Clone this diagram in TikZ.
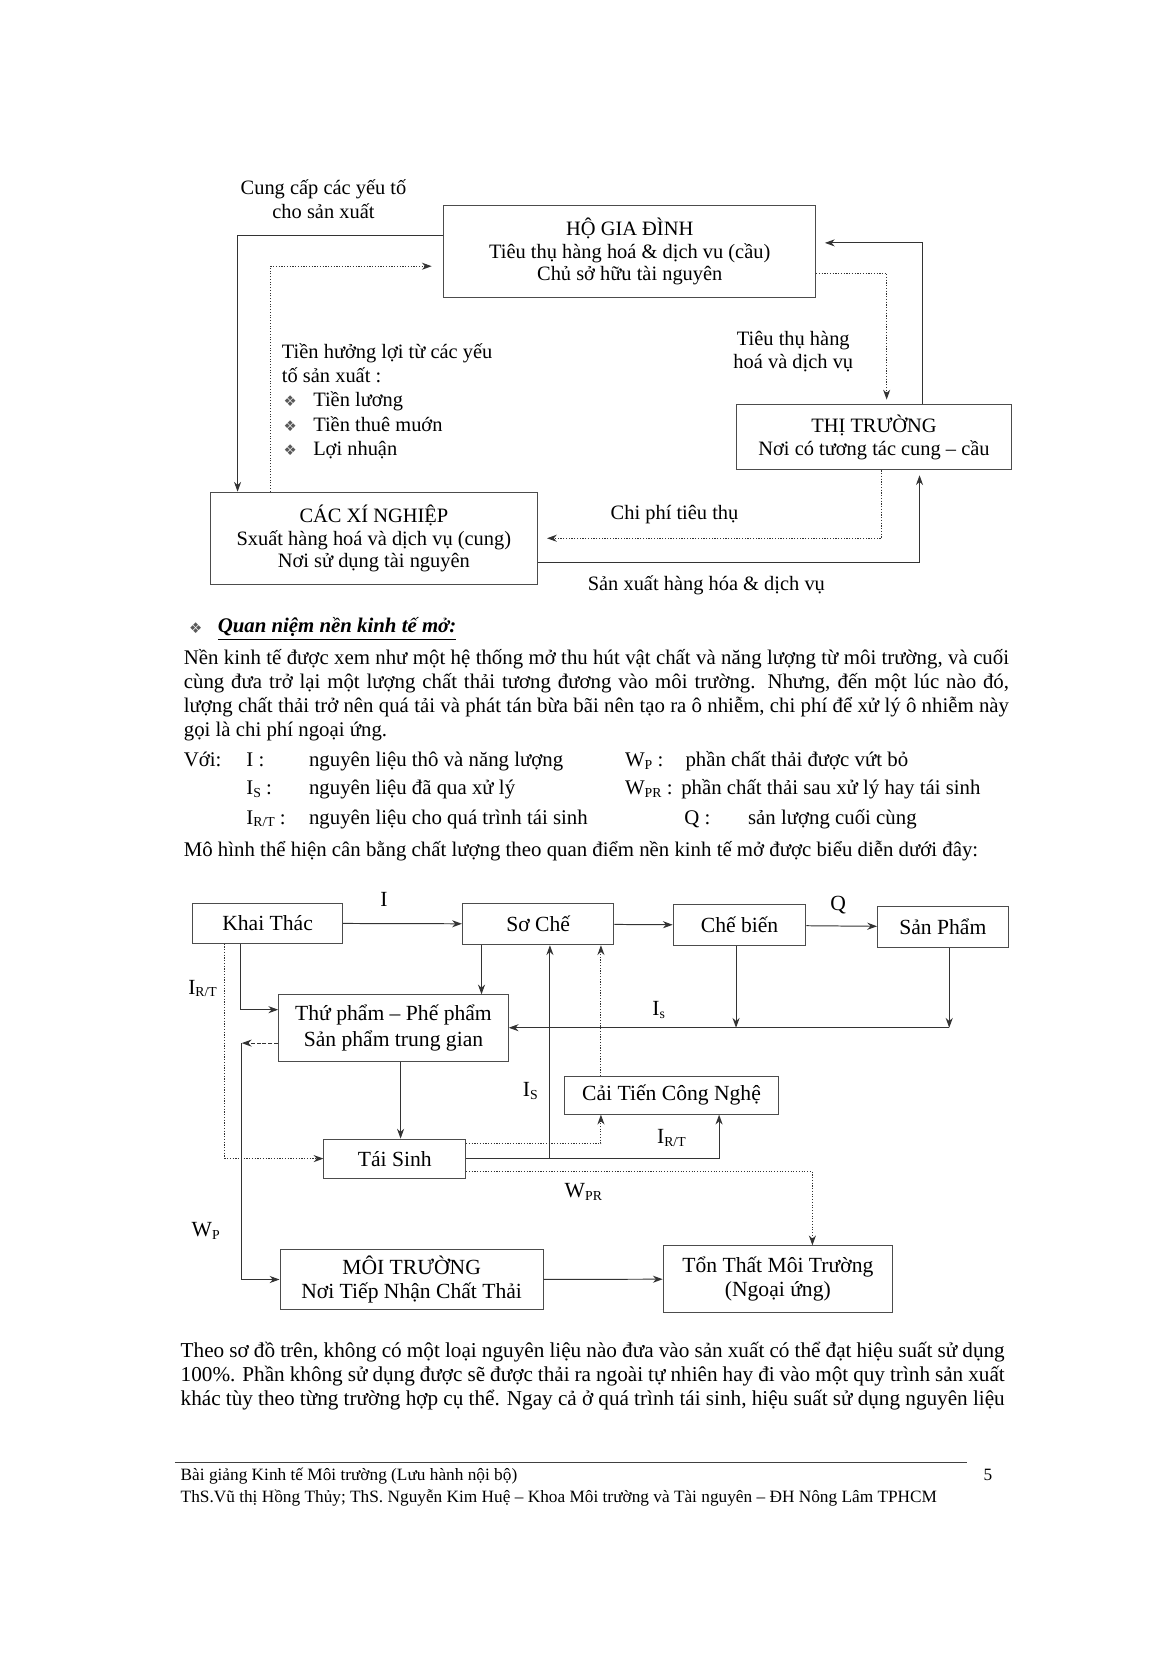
\documentclass[tikz,border=0pt]{standalone}
\usepackage{fontspec}
\setmainfont{Liberation Serif}
\newfontfamily\dingfont{DejaVu Sans}
\usetikzlibrary{arrows.meta}

\newdimen\pxu \pxu=0.54pt
\newcommand{\bodyfont}{\fontsize{10.6}{12}\selectfont}
\newcommand{\closefont}{\fontsize{10.8}{12}\selectfont}
\newcommand{\topfont}{\fontsize{10.4}{11.5}\selectfont}
\newcommand{\botfont}{\fontsize{11}{12}\selectfont}
\newcommand{\footfont}{\fontsize{8.8}{10}\selectfont}
\newcommand{\lowsub}[1]{\raisebox{-0.3ex}{\fontsize{7}{7}\selectfont #1}}
\newcommand{\dbul}{{\dingfont\fontsize{7.5}{7.5}\selectfont\color{black!65}❖}}
\newcommand{\jline}[2]{\makebox[#1\pxu][s]{#2}}

\begin{document}
\begin{tikzpicture}[x=0.54pt, y=-0.54pt,
  every node/.style={inner sep=0pt},
  box/.style 2 args={draw=black!70, line width=0.5pt, align=center,
    minimum width=#1*0.54pt, minimum height=#2*0.54pt},
  tline/.style={anchor=base west, font=\bodyfont},
  lbl/.style={anchor=base, font=\topfont},
  blbl/.style={font=\botfont},
  solidflow/.style={draw=black!80, line width=0.5pt, -{Stealth[length=5pt,width=3.6pt]}},
  dotflow/.style={solidflow, dash pattern=on 0.6pt off 0.8pt},
  dashflow/.style={solidflow, dash pattern=on 2pt off 1pt},
]
\useasboundingbox (0,0) rectangle (1102,1568);
\fill[white] (0,0) rectangle (1102,1568);

% circular flow: households, firms, market
\node[box={350.4}{86.6}, font=\topfont] (hgd) at (593.8,237.3)
  {HỘ GIA ĐÌNH\\Tiêu thụ hàng hoá \& dịch vu (cầu)\\Chủ sở hữu tài nguyên};
\node[box={309}{87.5}, font=\topfont] (cxn) at (352.5,507.8)
  {CÁC XÍ NGHIỆP\\Sxuất hàng hoá và dịch vụ (cung)\\Nơi sử dụng tài nguyên};
\node[box={259.2}{61.2}, font=\topfont] (tt) at (824.1,412.4)
  {THỊ TRƯỜNG\\Nơi có tương tác cung -- cầu};

\node[lbl] (cc1) at (305,183) {Cung cấp các yếu tố};
\node[lbl] (cc2) at (305,206) {cho sản xuất};
\node[lbl, anchor=base west] (th1) at (265.5,338) {Tiền hưởng lợi từ các yếu};
\node[lbl, anchor=base west] (th2) at (265.5,360.5) {tố sản xuất :};
\node[lbl, anchor=base west] (tb1) at (267,383.5) {\dbul};
\node[lbl, anchor=base west] (ti1) at (295,383.5) {Tiền lương};
\node[lbl, anchor=base west] (tb2) at (267,406.5) {\dbul};
\node[lbl, anchor=base west] (ti2) at (295,406.5) {Tiền thuê muớn};
\node[lbl, anchor=base west] (tb3) at (267,429) {\dbul};
\node[lbl, anchor=base west] (ti3) at (295,429) {Lợi nhuận};
\node[lbl] (tth1) at (748,326) {Tiêu thụ hàng};
\node[lbl] (tth2) at (748,347.5) {hoá và dịch vụ};
\node[lbl] (cptt) at (636,490) {Chi phí tiêu thụ};
\node[lbl] (sxh) at (666,557) {Sản xuất hàng hóa \& dịch vụ};

\coordinate (tl) at (224,222);
\coordinate (td) at (255,251);
\coordinate (tr) at (836,257.7);
\coordinate (tq) at (870,229);
\coordinate (tb) at (831,507.5);
\coordinate (tc) at (867,530.4);
\draw[solidflow] (hgd.west |- tl) -- (tl) -- (cxn.north -| tl);
\draw[dotflow, shorten >=6pt] (cxn.north -| td) -- (td) -- (hgd.west |- td);
\draw[dotflow, shorten >=2.5pt] (hgd.east |- tr) -| (tt.north -| tr);
\draw[solidflow, shorten >=4.5pt] (tt.north -| tq) |- (hgd.east |- tq);
\draw[dotflow, shorten >=4.5pt] (tt.south -| tb) |- (cxn.east |- tb);
\draw[solidflow, shorten >=2.5pt] (cxn.east |- tc) -| (tt.south -| tc);

% text between the two diagrams
\node[tline] (hbul) at (178,597) {\dbul};
\node[tline, font=\bodyfont\bfseries\itshape] (head) at (205,596.5) {\underline{Quan niệm nền kinh tế mở:}};
\node[tline] (p1) at (173,626.5) {\jline{778}{Nền kinh tế được xem như một hệ thống mở thu hút vật chất và năng lượng từ môi trường, và cuối}};
\node[tline] (p2) at (173,649.5) {\jline{778}{cùng đưa trở lại một lượng chất thải tương đương vào môi trường. Nhưng, đến một lúc nào đó,}};
\node[tline] (p3) at (173,671.5) {\jline{778}{lượng chất thải trở nên quá tải và phát tán bừa bãi nên tạo ra ô nhiễm, chi phí để xử lý ô nhiễm này}};
\node[tline] (p4) at (173,694.5) {gọi là chi phí ngoại ứng.};

\node[tline] (v0) at (173,722.5) {Với:};
\node[tline] (v1a) at (232,722.5) {I :};
\node[tline] (v1b) at (291,722.5) {nguyên liệu thô và năng lượng};
\node[tline] (v1c) at (589,722.5) {W\lowsub{P} :};
\node[tline] (v1d) at (646,722.5) {phần chất thải được vứt bỏ};
\node[tline] (v2a) at (232,749) {I\lowsub{S} :};
\node[tline] (v2b) at (291,749) {nguyên liệu đã qua xử lý};
\node[tline] (v2c) at (589,749) {W\lowsub{PR} :};
\node[tline] (v2d) at (642,749) {phần chất thải sau xử lý hay tái sinh};
\node[tline] (v3a) at (232,777) {I\lowsub{R/T} :};
\node[tline] (v3b) at (291,777) {nguyên liệu cho quá trình tái sinh};
\node[tline] (v3c) at (645,777) {Q :};
\node[tline] (v3d) at (705,777) {sản lượng cuối cùng};
\node[tline] (mh) at (173,808) {Mô hình thể hiện cân bằng chất lượng theo quan điểm nền kinh tế mở được biểu diễn dưới đây:};

% material balance of the open economy
\node[box={141.4}{37.7}, font=\botfont] (kt) at (252.3,870.5) {Khai Thác};
\node[box={142.8}{39.2}, font=\botfont] (sc) at (507.4,871.2) {Sơ Chế};
\node[box={125.1}{38.5}, font=\botfont] (cb) at (697.3,872.3) {Chế biến};
\node[box={123.1}{38.3}, font=\botfont] (sp) at (889,873.9) {Sản Phẩm};
\node[box={216.5}{62.8}, font=\botfont] (tp) at (371,969.4) {\raisebox{-3pt}{\shortstack{Thứ phẩm -- Phế phẩm\\Sản phẩm trung gian}}};
\node[box={201.1}{35.5}, font=\botfont] (ctcn) at (633.2,1032.8) {Cải Tiến Công Nghệ};
\node[box={133.6}{36.8}, font=\botfont] (ts) at (372.2,1092.4) {Tái Sinh};
\node[box={248.2}{57.3}, font=\botfont] (mt) at (388.1,1206.4) {MÔI TRƯỜNG\\Nơi Tiếp Nhận Chất Thải};
\node[box={216.2}{62.8}, font=\botfont] (ttmt) at (733.4,1206) {Tổn Thất Môi Trường\\(Ngoại ứng)};

\node[blbl] (li) at (362,848) {I};
\node[blbl] (lq) at (790.3,853) {Q};
\node[blbl] (lrt1) at (191,932) {I\lowsub{R/T}};
\node[blbl] (lis1) at (621,952) {I\lowsub{s}};
\node[blbl] (lis2) at (500,1029) {I\lowsub{S}};
\node[blbl] (lrt2) at (633,1073) {I\lowsub{R/T}};
\node[blbl] (lwpr) at (550,1123.4) {W\lowsub{PR}};
\node[blbl] (lwp) at (194,1161) {W\lowsub{P}};

\coordinate (ka) at (227,952);
\coordinate (kd) at (212,1092);
\coordinate (sx) at (454,900);
\coordinate (tx) at (377.7,1040);
\coordinate (isc) at (694,969);
\coordinate (isr) at (895,969);
\coordinate (wpc) at (228,983.5);
\coordinate (ca) at (566.6,1078);
\coordinate (cbx) at (678,1093);
\coordinate (isx) at (518.5,1093);
\coordinate (wpr) at (766,1104.5);
\draw[solidflow] (kt) -- (sc);
\draw[solidflow] (sc) -- (cb);
\draw[solidflow] (cb) -- (sp);
\draw[solidflow] (kt.south -| ka) -- (ka) -- (tp.west |- ka);
\draw[dotflow] (kt.south -| kd) |- (ts.west);
\draw[solidflow] (sc.south -| sx) -- (tp.north -| sx);
\draw[solidflow] (tp.south -| tx) -- (ts.north -| tx);
\draw[solidflow] (cb.south -| isc) -- (isc);
\draw[solidflow] (sp.south -| isr) -- (isr);
\draw[solidflow] (isr) -- (tp.east |- isr);
\draw[dashflow] (tp.west |- wpc) -- (wpc);
\draw[solidflow] (wpc) |- (mt.west);
\draw[dotflow] (ts.east |- ca) -| (ctcn.south -| ca);
\draw[solidflow] (ts.east) -| (ctcn.south -| cbx);
\draw[solidflow] (isx |- ts.east) -- (sc.south -| isx);
\draw[dotflow] (ctcn.north -| ca) -- (sc.south -| ca);
\draw[dotflow] (ts.east |- wpr) -| (ttmt.north -| wpr);
\draw[solidflow] (mt) -- (ttmt);

% closing paragraph and footer
\node[tline, font=\closefont] (q1) at (170,1280) {\jline{777}{Theo sơ đồ trên, không có một loại nguyên liệu nào đưa vào sản xuất có thể đạt hiệu suất sử dụng}};
\node[tline, font=\closefont] (q2) at (170,1303) {\jline{777}{100\%. Phần không sử dụng được sẽ được thải ra ngoài tự nhiên hay đi vào một quy trình sản xuất}};
\node[tline, font=\closefont] (q3) at (170,1325) {\jline{777}{khác tùy theo từng trường hợp cụ thể. Ngay cả ở quá trình tái sinh, hiệu suất sử dụng nguyên liệu}};

\draw[black!75, line width=0.7pt] (165,1379) -- (912,1379);
\node[anchor=base west, font=\footfont] (f1) at (170,1396) {Bài giảng Kinh tế Môi trường (Lưu hành nội bộ)};
\node[anchor=base west, font=\footfont] (fpg) at (927,1396) {5};
\node[anchor=base west, font=\footfont] (f2) at (170,1417) {ThS.Vũ thị Hồng Thủy; ThS. Nguyễn Kim Huệ -- Khoa Môi trường và Tài nguyên -- ĐH Nông Lâm TPHCM};
\end{tikzpicture}
\end{document}
